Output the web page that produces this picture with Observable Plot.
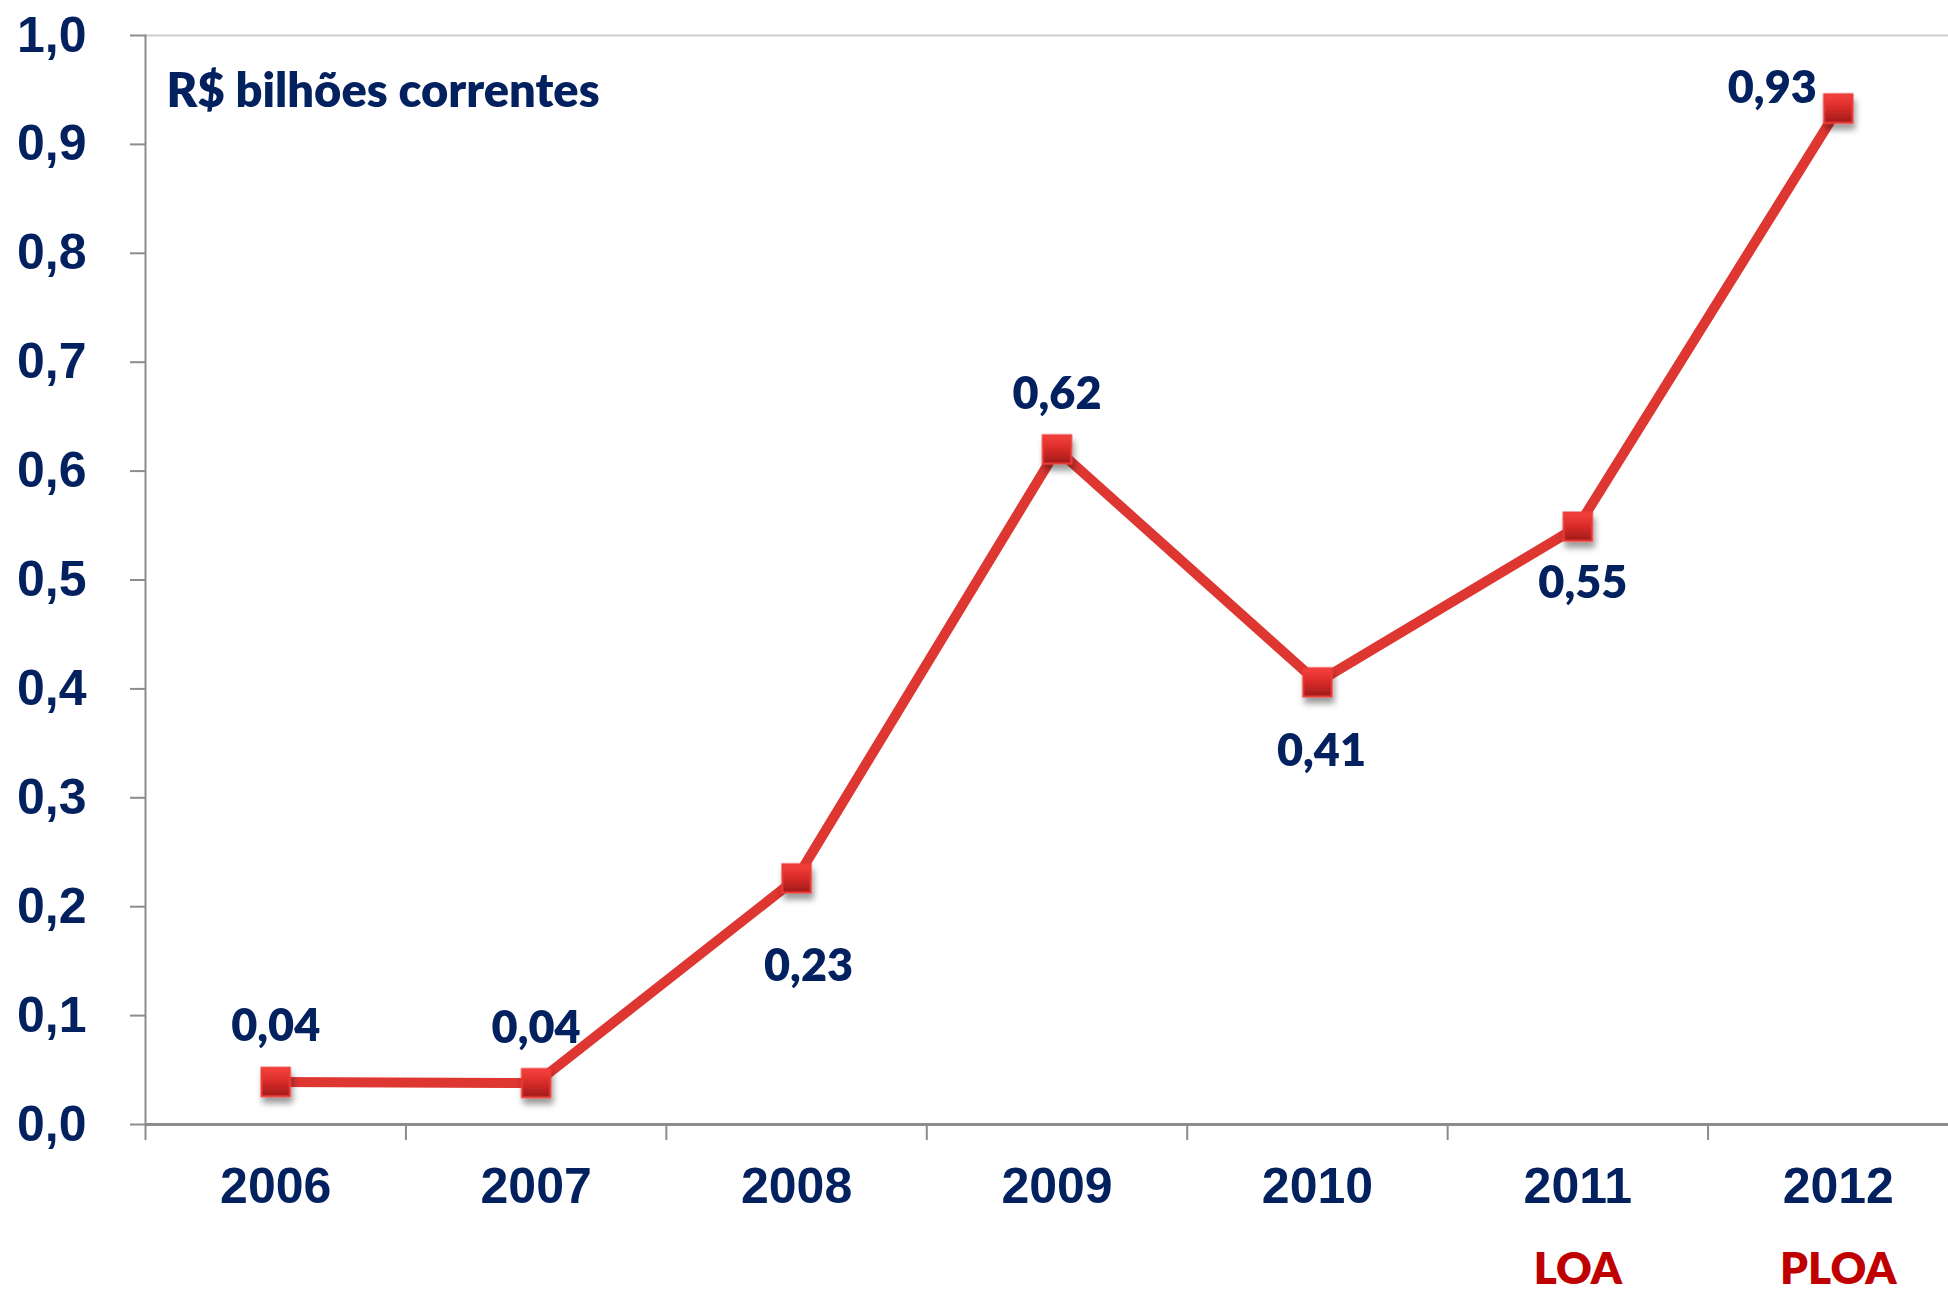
<!DOCTYPE html>
<html>
<head>
<meta charset="utf-8">
<script src="https://cdn.jsdelivr.net/npm/d3@7"></script>
<script src="https://cdn.jsdelivr.net/npm/@observablehq/plot@0.6"></script>
<style>
  html, body { margin: 0; padding: 0; background: #fff; overflow: hidden; }
  #chart { width: 1948px; height: 1290px; }
</style>
</head>
<body>
<div id="chart"></div>
<script>
// ---- Data ----
const years = ["2006", "2007", "2008", "2009", "2010", "2011", "2012"];
const values = [0.039, 0.038, 0.226, 0.620, 0.406, 0.549, 0.933];
const subLabels = ["", "", "", "", "", "LOA", "PLOA"];
const yTicks = [0, 0.1, 0.2, 0.3, 0.4, 0.5, 0.6, 0.7, 0.8, 0.9, 1.0];
const unitLabel = "R$ bilhões correntes";

// ---- Styles ----
const navy = "#03215F";
const lineRed = "#DE3631";
const axisGray = "#8c8c8c";
const labelOffsets = { // label placement relative to marker (style)
  "2006": [0, -55], "2007": [0, -55], "2008": [12, 88], "2009": [0, -55],
  "2010": [4, 69], "2011": [5, 57], "2012": [-66, -20]
};

const commaFmt = (f) => (v) => d3.format(f)(v).replace(".", ",");
const data = years.map((year, i) => ({ i, year, value: values[i], label: commaFmt(".2f")(values[i]) }));

const chart = Plot.plot({
  width: 1948,
  height: 1290,
  marginTop: 35,
  marginBottom: 166,
  marginLeft: 145,
  marginRight: 0,
  style: { fontFamily: "'Liberation Sans', Arial, sans-serif", background: "white", overflow: "visible" },
  x: { domain: [-0.5, years.length - 0.5], range: [145, 1968] },
  y: { domain: [0, 1] },
  marks: [
    Plot.frame({ anchor: "top", stroke: "#cfcfcf", strokeWidth: 2 }),
    Plot.axisY({ ticks: yTicks, tickFormat: commaFmt(".1f"), tickSize: 15, tickPadding: 44,
      stroke: axisGray, strokeWidth: 2, fill: navy, fontSize: 50, fontWeight: "bold", label: null }),
    Plot.frame({ anchor: "left", stroke: axisGray, strokeWidth: 2 }),
    Plot.axisX({ ticks: d3.range(years.length + 1).map((i) => i - 0.5), tickFormat: () => "",
      tickSize: 16, stroke: axisGray, strokeWidth: 2, label: null }),
    Plot.ruleY([0], { stroke: axisGray, strokeWidth: 3 }),
    Plot.axisX({ ticks: d3.range(years.length), tickFormat: (i) => years[i], tickSize: 0, tickPadding: 43,
      fill: navy, fontSize: 50, fontWeight: "bold", label: null }),
    Plot.axisX({ ticks: d3.range(years.length).filter((i) => subLabels[i]), tickFormat: (i) => subLabels[i],
      tickSize: 0, tickPadding: 128, fill: "#C00000", fontSize: 44, fontWeight: 800,
      fontFamily: "Lato", label: null }),
    Plot.line(data, { x: "i", y: "value", stroke: lineRed, strokeWidth: 10 }),
    Plot.dot(data, { x: "i", y: "value", symbol: "square", r: 16, fill: "url(#mk)", stroke: "#EC3C37", strokeWidth: 2 }),
    ...data.map((d) => Plot.text([d], {
      x: "i", y: "value", text: "label",
      dx: labelOffsets[d.year][0], dy: labelOffsets[d.year][1],
      fill: navy, fontFamily: "Lato", fontWeight: 800, fontSize: 45, lineAnchor: "middle"
    })),
    Plot.text([unitLabel], { frameAnchor: "top-left", dx: 21, dy: 38, lineAnchor: "top", textAnchor: "start",
      fill: navy, fontFamily: "Lato", fontWeight: 800, fontSize: 47 })
  ]
});

// gradient + shadow for the square markers
const svg = d3.select(chart);
const defs = svg.insert("defs", ":first-child");
const grad = defs.append("linearGradient").attr("id", "mk").attr("x1", 0).attr("y1", 0).attr("x2", 0).attr("y2", 1);
grad.append("stop").attr("offset", "0%").attr("stop-color", "#F8423F");
grad.append("stop").attr("offset", "50%").attr("stop-color", "#D72B28");
grad.append("stop").attr("offset", "100%").attr("stop-color", "#A01B1B");
const f = defs.append("filter").attr("id", "sh").attr("x", "-50%").attr("y", "-50%").attr("width", "200%").attr("height", "200%");
f.append("feDropShadow").attr("dx", 2).attr("dy", 6).attr("stdDeviation", 3).attr("flood-color", "#000").attr("flood-opacity", 0.4);
svg.selectAll("g[aria-label=dot]").attr("filter", "url(#sh)");

document.getElementById("chart").appendChild(chart);
</script>
</body>
</html>
